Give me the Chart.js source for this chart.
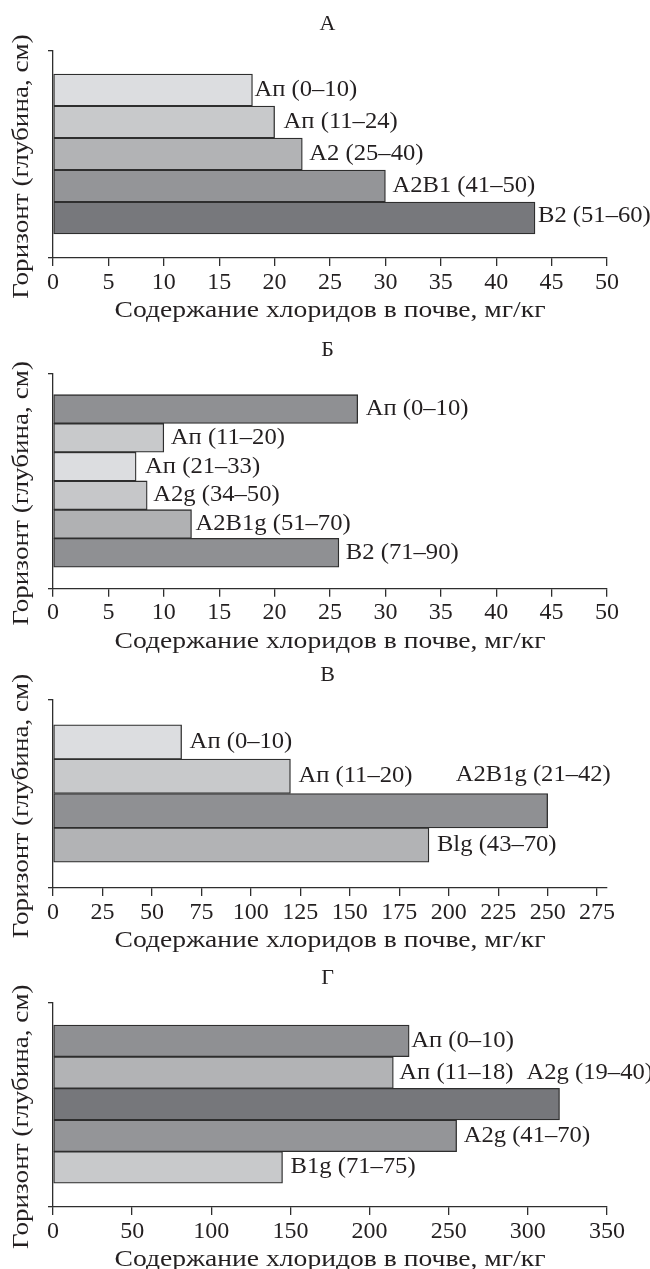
<!DOCTYPE html>
<html>
<head>
<meta charset="utf-8">
<script src="https://cdn.jsdelivr.net/npm/chart.js@4.4.1/dist/chart.umd.min.js"></script>
<style>
  body { margin: 0; background: #fff; }
  .panel { position: relative; width: 650px; }
</style>
</head>
<body>
<div class="panel" style="height:326px"><canvas id="chartA"></canvas></div>
<div class="panel" style="height:331px"><canvas id="chartB"></canvas></div>
<div class="panel" style="height:303px"><canvas id="chartC"></canvas></div>
<div class="panel" style="height:309px"><canvas id="chartD"></canvas></div>
<script>
// ---------- DATA ----------
const xTitle = 'Содержание хлоридов в почве, мг/кг';
const yTitle = 'Горизонт (глубина, см)';

// А
const horizonsA = ['Ап (0–10)', 'Ап (11–24)', 'А2 (25–40)', 'А2В1 (41–50)', 'В2 (51–60)'];
const chloridesA = [18, 20, 22.5, 30, 43.5];
const ticksA = [0, 5, 10, 15, 20, 25, 30, 35, 40, 45, 50];

// Б
const horizonsB = ['Ап (0–10)', 'Ап (11–20)', 'Ап (21–33)', 'А2g (34–50)', 'А2В1g (51–70)', 'В2 (71–90)'];
const chloridesB = [27.5, 10, 7.5, 8.5, 12.5, 25.8];
const ticksB = [0, 5, 10, 15, 20, 25, 30, 35, 40, 45, 50];

// В
const horizonsC = ['Ап (0–10)', 'Ап (11–20)', 'А2В1g (21–42)', 'Вlg (43–70)'];
const chloridesC = [65, 120, 250, 190];
const ticksC = [0, 25, 50, 75, 100, 125, 150, 175, 200, 225, 250, 275];

// Г
const horizonsD = ['Ап (0–10)', 'Ап (11–18)', 'А2g (19–40)', 'А2g (41–70)', 'В1g (71–75)'];
const chloridesD = [225, 215, 320, 255, 145];
const ticksD = [0, 50, 100, 150, 200, 250, 300, 350];

// ---------- STYLE ----------
const SERIF = "'Liberation Serif', 'Times New Roman', serif";
const INK = '#231f20';
const LINE = '#2e2e2e';

Chart.defaults.font.family = SERIF;
Chart.defaults.color = INK;

// draws text a bit wider, the original font is wider than Times
function wideText(ctx, text, x, y, sx, rotate) {
  ctx.save();
  ctx.translate(x, y);
  if (rotate) ctx.rotate(-Math.PI / 2);
  ctx.scale(sx, 1);
  ctx.fillText(text, 0, 0);
  ctx.restore();
}

const barLabels = {
  id: 'barLabels',
  afterDatasetsDraw(chart, args, opts) {
    const ctx = chart.ctx;
    const meta = chart.getDatasetMeta(0);
    const labels = chart.data.labels;
    ctx.save();
    ctx.font = '23px ' + SERIF;
    ctx.fillStyle = INK;
    ctx.textAlign = 'left';
    ctx.textBaseline = 'middle';
    meta.data.forEach((bar, i) => {
      const dx = opts.dx ? opts.dx[i] : 7;
      const dy = opts.dy ? opts.dy[i] : 0;
      wideText(ctx, labels[i], bar.x + dx, bar.y + dy, 1.07, false);
    });
    ctx.restore();
  }
};

const axisTitles = {
  id: 'axisTitles',
  afterDraw(chart) {
    const ctx = chart.ctx;
    const area = chart.chartArea;
    ctx.save();
    ctx.font = '23px ' + SERIF;
    ctx.fillStyle = INK;
    ctx.textAlign = 'center';
    ctx.textBaseline = 'middle';
    wideText(ctx, xTitle, (area.left + area.right) / 2, area.bottom + 53, 1.2, false);
    wideText(ctx, yTitle, 22, (area.top + area.bottom) / 2 + 12, 1.18, true);
    ctx.restore();
  }
};

function makePanel(id, title, labels, values, colors, xTicks, xMax, pads, nudge) {
  const n = values.length;
  new Chart(document.getElementById(id), {
    type: 'bar',
    data: {
      labels: labels,
      datasets: [{
        data: values.map((v, i) => ({ x: v, y: i + 1 })),
        backgroundColor: colors,
        borderColor: LINE,
        borderWidth: 1.3,
        borderSkipped: false,
        categoryPercentage: 1,
        barPercentage: 1
      }]
    },
    options: {
      indexAxis: 'y',
      responsive: true,
      maintainAspectRatio: false,
      animation: false,
      layout: { padding: { left: 48, right: 43, top: 0, bottom: pads.bottom } },
      plugins: {
        legend: { display: false },
        tooltip: { enabled: false },
        title: {
          display: true,
          text: title,
          color: INK,
          font: { size: 22, weight: 'normal' },
          padding: { top: pads.titleTop, bottom: pads.titleBottom }
        },
        barLabels: nudge
      },
      scales: {
        x: {
          type: 'linear',
          min: 0,
          max: xMax,
          afterBuildTicks: (scale) => { scale.ticks = xTicks.map(v => ({ value: v })); },
          border: { color: LINE, width: 1.3 },
          grid: { drawOnChartArea: false, color: LINE, lineWidth: 1.3, tickLength: 8 },
          ticks: { color: INK, font: { size: 24 }, padding: 2, maxRotation: 0, autoSkip: false }
        },
        y: {
          type: 'linear',
          reverse: true,
          offset: false,
          min: 1 - 1.22,
          max: n + 1.25,
          afterBuildTicks: (scale) => { scale.ticks = [{ value: scale.max }, { value: scale.min }]; },
          border: { color: LINE, width: 1.3 },
          grid: { offset: false, drawOnChartArea: false, color: LINE, lineWidth: 1.3, tickLength: 5 },
          ticks: { display: false }
        }
      }
    },
    plugins: [barLabels, axisTitles]
  });
}

// ---------- CHARTS ----------
makePanel('chartA', 'А', horizonsA, chloridesA,
  ['#dcdde0', '#c8c9cb', '#b2b3b5', '#949598', '#77787c'],
  ticksA, 50,
  { titleTop: 10.8, titleBottom: 13.8, bottom: 27.2 },
  { dx: [2, 9, 7, 7, 3], dy: [0, 0, 0, 0, -2] });

makePanel('chartB', 'Б', horizonsB, chloridesB,
  ['#8f9093', '#c8c9cb', '#dcdde0', '#c6c7c9', '#b0b1b3', '#8f9093'],
  ticksB, 50,
  { titleTop: 10.8, titleBottom: 10.8, bottom: 27.5 },
  { dx: [8, 7, 9, 6, 4, 7], dy: [0, 0, 0, 0, 0, 0] });

makePanel('chartC', 'В', horizonsC, chloridesC,
  ['#dcdde0', '#c8c9cb', '#8f9093', '#b2b3b5'],
  ticksC, 280,
  { titleTop: 4.8, titleBottom: 11.8, bottom: 31.2 },
  { dx: [8, 8, -92, 8], dy: [0, 0, -36, 0] });

makePanel('chartD', 'Г', horizonsD, chloridesD,
  ['#8f9093', '#b2b3b5', '#76777b', '#949598', '#c8c9cb'],
  ticksD, 350,
  { titleTop: 4.8, titleBottom: 11.1, bottom: 21.2 },
  { dx: [2, 6, -33, 7, 8], dy: [0, 0, -31, 0, 0] });
</script>
</body>
</html>
